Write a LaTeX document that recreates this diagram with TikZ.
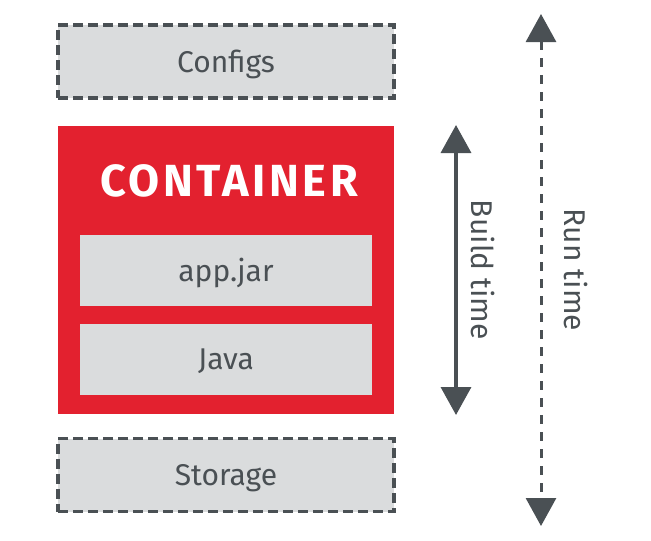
\documentclass[tikz,border=0pt]{standalone}
\usepackage{fontspec}
\setmainfont{Fira Sans}
\newfontfamily\titlefont[LetterSpace=8]{Fira Sans}
\usetikzlibrary{arrows.meta}
\definecolor{rhred}{HTML}{E3212F}
\definecolor{boxgray}{HTML}{DADCDD}
\definecolor{ink}{HTML}{4A5054}
\tikzset{
  x=1pt, y=-1pt,
  dashbox/.style={draw=ink, fill=boxgray, line width=3.3pt, dash pattern=on 10pt off 5pt,
    minimum width=336pt, minimum height=73pt, inner sep=0pt, text=ink, text depth=0pt,
    font=\fontsize{30}{34}\selectfont},
  inbox/.style={fill=boxgray, minimum width=292pt, minimum height=71pt, inner sep=0pt,
    text=ink, text depth=0pt, font=\fontsize{30}{34}\selectfont},
  redbox/.style={fill=rhred, minimum width=336pt, minimum height=288pt, inner sep=0pt},
  span/.style={draw=ink, line width=3.5pt, {Triangle[width=30pt,length=28pt]}-{Triangle[width=30pt,length=28pt]}},
  dspan/.style={span, line width=3pt, dash pattern=on 9pt off 8pt},
  sidelabel/.style={rotate=-90, text=ink, font=\fontsize{30}{34}\selectfont, inner sep=0pt}
}
\begin{document}
\begin{tikzpicture}
\useasboundingbox (0,0) rectangle (651,541);
\node[dashbox] (configs) at (226,61.5) {Configs};
\node[redbox] (container) at (226,270) {};
\node[text=white, font=\titlefont\fontsize{45}{50}\bfseries\selectfont, inner sep=0pt] (title) at (229,180.5) {CONTAINER};
\node[inbox] (app) at (226,270) {app.jar};
\node[inbox] (java) at (226,359.5) {Java};
\node[dashbox] (storage) at (226,475) {Storage};
\coordinate (bt1) at (456,125);
\coordinate (bt2) at (456,415);
\draw[span] (bt1) -- (bt2);
\node[sidelabel] (build) at (483,270) {Build time};
\coordinate (rt1) at (541,14);
\coordinate (rt2) at (541,526);
\draw[dspan] (rt1) -- (rt2);
\node[sidelabel] (run) at (576,270) {Run time};
\end{tikzpicture}
\end{document}
